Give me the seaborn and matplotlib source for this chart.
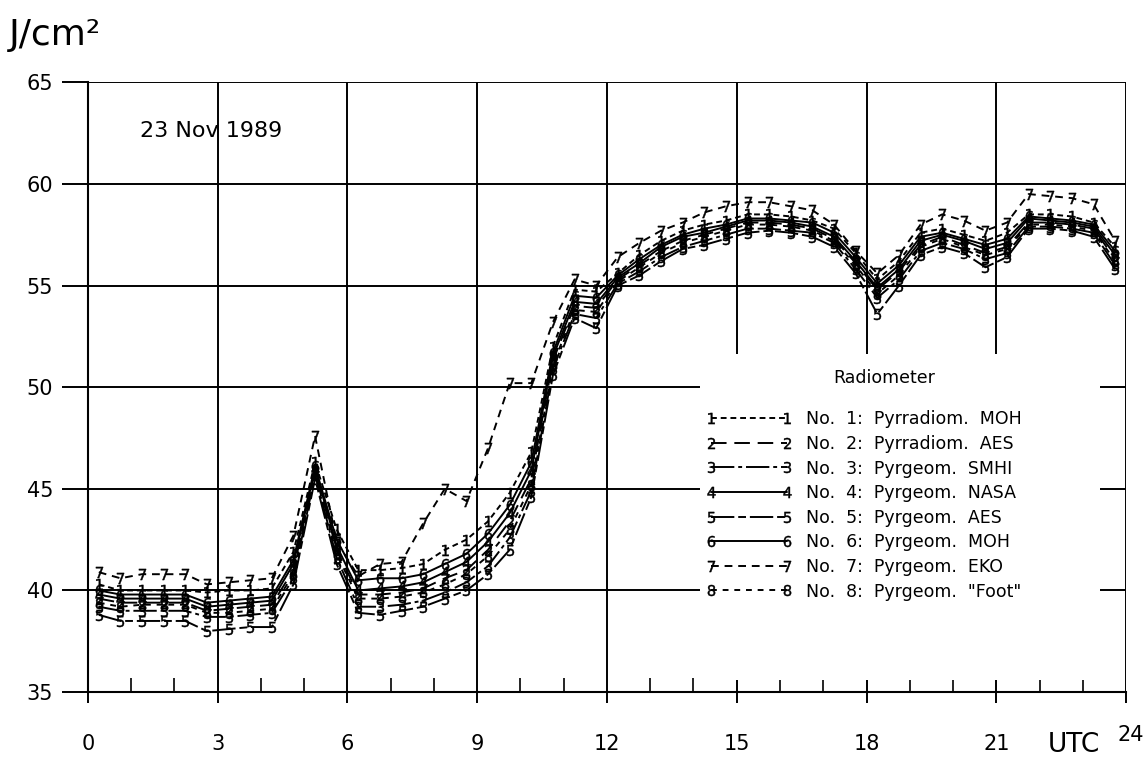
import matplotlib
matplotlib.use("Agg")
import matplotlib.pyplot as plt
import seaborn as sns
import pandas as pd
from matplotlib.lines import Line2D
from matplotlib.patches import Rectangle

sns.set_theme(style="white")
plt.rcParams['font.family'] = ['DejaVu Sans']
plt.rcParams['text.color'] = 'black'
plt.rcParams['xtick.color'] = 'black'
plt.rcParams['ytick.color'] = 'black'
plt.rcParams['axes.labelcolor'] = 'black'

hours = [0.25, 0.75, 1.25, 1.75, 2.25, 2.75, 3.25, 3.75, 4.25, 4.75, 5.25, 5.75,
         6.25, 6.75, 7.25, 7.75, 8.25, 8.75, 9.25, 9.75, 10.25, 10.75, 11.25, 11.75,
         12.25, 12.75, 13.25, 13.75, 14.25, 14.75, 15.25, 15.75, 16.25, 16.75, 17.25, 17.75,
         18.25, 18.75, 19.25, 19.75, 20.25, 20.75, 21.25, 21.75, 22.25, 22.75, 23.25, 23.75]

s1 = [40.3, 40.0, 40.0, 40.0, 40.0, 39.9, 40.0, 40.0, 40.1, 41.9, 46.3, 43.0,
      41.0, 41.0, 41.1, 41.3, 42.0, 42.5, 43.4, 44.8, 46.8, 52.0, 54.8, 54.7,
      55.6, 56.5, 57.2, 57.7, 58.0, 58.2, 58.5, 58.5, 58.4, 58.2, 57.8, 56.6,
      55.3, 56.2, 57.6, 57.8, 57.5, 57.2, 57.6, 58.5, 58.5, 58.4, 58.1, 56.9]
s2 = [39.6, 39.4, 39.4, 39.4, 39.4, 39.0, 39.1, 39.2, 39.3, 41.0, 45.9, 42.0,
      39.8, 39.8, 39.9, 40.1, 40.6, 41.0, 42.0, 43.4, 45.5, 51.3, 54.0, 53.9,
      55.3, 56.0, 56.7, 57.2, 57.5, 57.8, 58.1, 58.1, 58.0, 57.8, 57.3, 56.1,
      54.8, 55.7, 57.0, 57.4, 57.0, 56.6, 56.9, 58.1, 58.1, 58.0, 57.8, 56.3]
s3 = [39.2, 39.0, 39.0, 39.0, 39.0, 38.7, 38.7, 38.8, 38.9, 40.6, 45.7, 41.6,
      39.2, 39.2, 39.3, 39.5, 39.9, 40.4, 41.2, 42.6, 44.9, 50.9, 53.6, 53.4,
      55.1, 55.7, 56.4, 56.9, 57.2, 57.5, 57.8, 57.8, 57.7, 57.6, 57.1, 55.8,
      54.4, 55.3, 56.7, 57.1, 56.8, 56.3, 56.6, 57.9, 57.9, 57.8, 57.6, 56.0]
s4 = [39.8, 39.6, 39.6, 39.6, 39.6, 39.2, 39.3, 39.4, 39.5, 41.3, 46.0, 42.2,
      40.0, 40.1, 40.2, 40.4, 40.9, 41.4, 42.4, 43.8, 45.9, 51.5, 54.2, 54.1,
      55.4, 56.1, 56.9, 57.4, 57.6, 57.9, 58.2, 58.2, 58.1, 57.9, 57.4, 56.2,
      54.9, 55.8, 57.2, 57.5, 57.2, 56.8, 57.1, 58.3, 58.2, 58.1, 57.9, 56.5]
s5 = [38.8, 38.5, 38.5, 38.5, 38.5, 38.0, 38.1, 38.2, 38.2, 40.3, 45.5, 41.3,
      38.9, 38.8, 39.0, 39.2, 39.6, 40.0, 40.8, 42.0, 44.6, 50.6, 53.4, 52.9,
      55.0, 55.5, 56.2, 56.8, 57.0, 57.3, 57.6, 57.7, 57.6, 57.4, 56.9, 55.6,
      53.6, 55.0, 56.5, 56.9, 56.6, 55.9, 56.4, 57.8, 57.8, 57.7, 57.4, 55.8]
s6 = [40.0, 39.8, 39.8, 39.8, 39.8, 39.4, 39.5, 39.6, 39.7, 41.5, 46.1, 42.5,
      40.5, 40.6, 40.6, 40.8, 41.3, 41.8, 42.8, 44.2, 46.3, 51.7, 54.5, 54.4,
      55.5, 56.3, 57.0, 57.5, 57.8, 58.0, 58.3, 58.3, 58.2, 58.1, 57.6, 56.4,
      55.1, 56.0, 57.4, 57.6, 57.3, 57.0, 57.3, 58.4, 58.3, 58.2, 58.0, 56.7]
s7 = [40.9, 40.6, 40.8, 40.8, 40.8, 40.3, 40.4, 40.5, 40.6, 42.7, 47.6, 42.4,
      40.7, 41.3, 41.4, 43.3, 45.0, 44.4, 47.0, 50.2, 50.2, 53.2, 55.3, 55.0,
      56.4, 57.1, 57.7, 58.1, 58.6, 58.9, 59.1, 59.1, 58.9, 58.7, 58.0, 56.7,
      55.6, 56.5, 58.0, 58.5, 58.2, 57.7, 58.1, 59.5, 59.4, 59.3, 59.0, 57.2]
s8 = [39.4, 39.2, 39.3, 39.3, 39.3, 38.9, 38.9, 39.0, 39.1, 40.8, 45.8, 41.8,
      39.6, 39.6, 39.7, 39.9, 40.3, 40.8, 41.7, 43.0, 45.2, 51.1, 53.8, 53.7,
      55.2, 55.9, 56.6, 57.1, 57.4, 57.7, 58.0, 58.0, 57.9, 57.7, 57.2, 56.0,
      54.6, 55.5, 56.9, 57.3, 56.9, 56.5, 56.8, 58.0, 58.0, 57.9, 57.7, 56.2]

series_values = [s1, s2, s3, s4, s5, s6, s7, s8]
labels = ["No.  1:  Pyrradiom.  MOH",
          "No.  2:  Pyrradiom.  AES",
          "No.  3:  Pyrgeom.  SMHI",
          "No.  4:  Pyrgeom.  NASA",
          "No.  5:  Pyrgeom.  AES",
          "No.  6:  Pyrgeom.  MOH",
          "No.  7:  Pyrgeom.  EKO",
          "No.  8:  Pyrgeom.  \"Foot\""]
styles = [(0, (3, 2)), (0, (8, 4)), (0, (12, 2, 2, 2)), "-",
          (0, (12, 2, 4, 2)), "-", (0, (4, 3)), (0, (3, 3))]
markers = ["$1$", "$2$", "$3$", "$4$", "$5$", "$6$", "$7$", "$8$"]

x_ticks = [0, 3, 6, 9, 12, 15, 18, 21, 24]
x_ticklabels = ["0", "3", "6", "9", "12", "15", "18", "21", ""]
y_ticks = [35, 40, 45, 50, 55, 60, 65]

fig = plt.figure(figsize=(11.47, 7.69), dpi=100)
ax = fig.add_axes([0.0767, 0.100, 0.905, 0.793])

for i in range(8):
    df = pd.DataFrame({"t": hours, "v": series_values[i]})
    sns.lineplot(data=df, x="t", y="v", ax=ax, color="black", linewidth=1.4,
                 linestyle=styles[i], marker=markers[i], markersize=8,
                 markerfacecolor="black", markeredgecolor="black",
                 markeredgewidth=0.3, zorder=3)

ax.set_xlim(0, 24)
ax.set_ylim(35, 65)
ax.set_xticks(x_ticks)
ax.set_xticklabels(x_ticklabels)
ax.set_xticks(range(0, 25), minor=True)
ax.set_yticks(y_ticks)
ax.set_yticklabels([str(v) for v in y_ticks])
ax.set_xlabel("")
ax.set_ylabel("")
ax.grid(True, which="major", color="black", linewidth=1.4)
ax.set_axisbelow(True)
for s in ["top", "right"]:
    ax.spines[s].set_visible(False)
for s in ["left", "bottom"]:
    ax.spines[s].set_color("black")
    ax.spines[s].set_linewidth(1.5)
ax.tick_params(axis="y", which="major", direction="out", length=19, width=1.4,
               color="black", labelsize=15, labelcolor="black", pad=6, left=True)
ax.tick_params(axis="x", which="major", direction="out", length=8, width=1.4,
               color="black", labelsize=15, labelcolor="black", pad=22, bottom=True)
ax.tick_params(axis="x", which="minor", direction="in", length=10, width=1.2,
               color="black", bottom=True)

# UTC label and the final "24" tick label
ax.text(24.1, 32.9, "24", fontsize=15, ha="center", va="center", clip_on=False)
ax.text(22.8, 32.4, "UTC", fontsize=19, ha="center", va="center", clip_on=False)

ax.text(1.2, 62.6, "23 Nov 1989", fontsize=16, ha="left", va="center")
fig.text(0.008, 0.955, "J/cm²", fontsize=26, ha="left", va="center")

# white legend panel covering the grid
ax.add_patch(Rectangle((0.59, 0.02), 0.385, 0.535, transform=ax.transAxes,
                       facecolor="white", edgecolor="none", zorder=2.5))
ax.text(0.767, 0.515, "Radiometer", transform=ax.transAxes, fontsize=12.5,
        ha="center", va="center", zorder=5)

handles = [Line2D([], [], color="black", linewidth=1.4, linestyle=styles[i],
                  marker=markers[i], markersize=8, markerfacecolor="black",
                  markeredgecolor="black", markeredgewidth=0.3)
           for i in range(8)]
leg = ax.legend(handles, labels, loc="upper left",
                bbox_to_anchor=(0.595, 0.462),
                numpoints=2, handlelength=5.0, handletextpad=0.8,
                fontsize=12.5, labelspacing=0.38, frameon=False,
                borderpad=0.0, borderaxespad=0.0)
leg.set_zorder(5)

fig.savefig("out.png", dpi=100)
